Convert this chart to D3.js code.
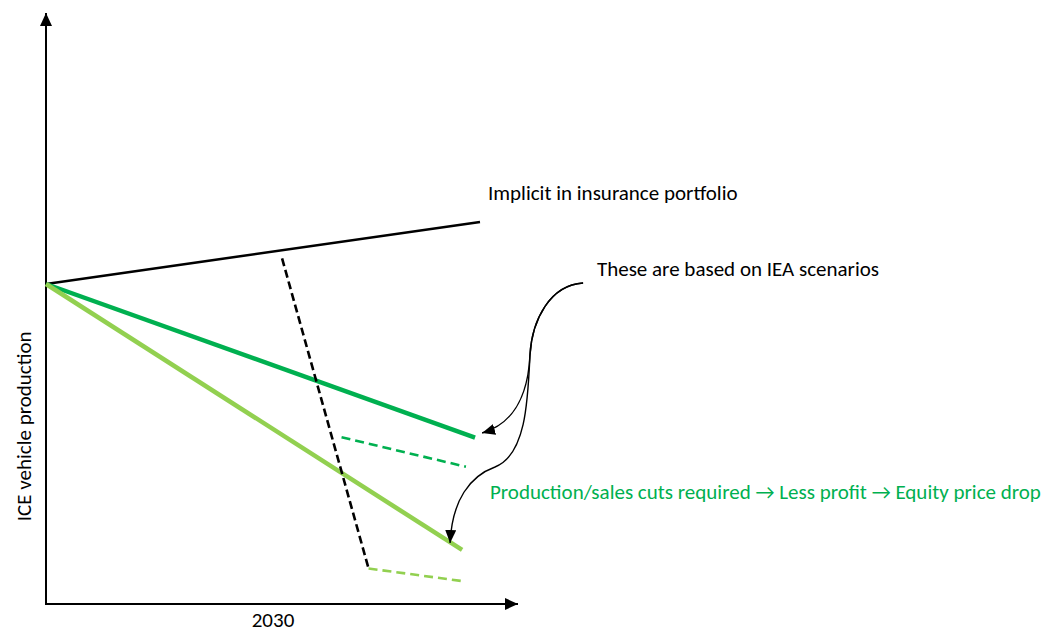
<!DOCTYPE html>
<html>
<head>
<meta charset="utf-8">
<script src="https://cdn.jsdelivr.net/npm/d3@7"></script>
<style>
  html, body { margin: 0; padding: 0; background: #fff; }
  svg { display: block; }
  text { font-family: Calibri, Carlito, Lato, "Open Sans", sans-serif; }
</style>
</head>
<body>
<svg id="chart" width="1045" height="633"></svg>
<script>
// Schematic: ICE vehicle production paths (index, start = 100) over time
const xTicks = [2030];
const startYear = 2020;

// Solid trajectories: [year, level]
const insurancePath = [[2020, 100], [2039.12, 119.4]];
const ieaUpperPath  = [[2020, 100], [2038.9, 52.0]];
const ieaLowerPath  = [[2020, 100], [2038.33, 16.9]];

// Dashed: abrupt adjustment and the resulting lower paths
const adjustmentPath = [[2030.4, 108.0], [2034.21, 11.1]];
const lowerAfterCut  = [[2034.21, 11.1], [2038.3, 7.2]];
const upperAfterCut  = [[2033.02, 52.1], [2038.5, 42.9]];

// Connector curves from the IEA note (chains of cubic segments, year/level units)
const connectorToUpper = [
  [2043.66, 100.31],
  [2042.2, 99.69], [2041.41, 88.75], [2041.32, 77.81],
  [2041.23, 63.75], [2040.44, 55.94], [2039.21, 53.44]
];
const connectorToLower = [
  [2043.66, 100.31],
  [2042.2, 99.69], [2041.41, 88.75], [2041.32, 77.81],
  [2041.23, 63.75], [2041.15, 46.56], [2039.78, 42.81],
  [2038.68, 40.0], [2037.89, 32.5], [2037.8, 19.06]
];

// Text labels with their anchor points [year, level]
const labels = {
  yAxis: "ICE vehicle production",
  insurance: "Implicit in insurance portfolio",
  iea: "These are based on IEA scenarios",
  consequence: "Production/sales cuts required \u2192 Less profit \u2192 Equity price drop"
};
const insuranceAt   = [2039.47, 126.25];
const ieaAt         = [2044.27, 102.5];
const consequenceAt = [2039.56, 32.8];

const svg = d3.select("#chart");
const x = d3.scaleLinear().domain([2020, 2040]).range([46, 500]);
const y = d3.scaleLinear().domain([0, 100]).range([604, 284]);

const BLACK = "#000000", DARK_GREEN = "#00B050", LIGHT_GREEN = "#92D050";
const FONT_SIZE = 21;

const defs = svg.append("defs");
function marker(id, w, l) {
  defs.append("marker")
    .attr("id", id)
    .attr("viewBox", `0 0 ${l} ${w}`)
    .attr("refX", l).attr("refY", w / 2)
    .attr("markerWidth", l).attr("markerHeight", w)
    .attr("markerUnits", "userSpaceOnUse")
    .attr("orient", "auto")
    .append("path")
    .attr("d", `M0,0L${l},${w / 2}L0,${w}Z`)
    .attr("fill", BLACK);
}
marker("axisArrow", 12, 13);
marker("noteArrow", 11, 13);

// Axes with arrowheads
const yTop = y.invert(13), xEnd = x.invert(518);
svg.append("line")
  .attr("x1", x(startYear)).attr("y1", y(0))
  .attr("x2", x(startYear)).attr("y2", y(yTop))
  .attr("stroke", BLACK).attr("stroke-width", 2)
  .attr("marker-end", "url(#axisArrow)");
svg.append("line")
  .attr("x1", x(startYear) - 1).attr("y1", y(0))
  .attr("x2", x(xEnd)).attr("y2", y(0))
  .attr("stroke", BLACK).attr("stroke-width", 2)
  .attr("marker-end", "url(#axisArrow)");

svg.selectAll(".xtick").data(xTicks).enter().append("text")
  .attr("class", "xtick")
  .attr("x", d => x(d)).attr("y", y(0) + 23)
  .attr("text-anchor", "middle")
  .attr("font-size", FONT_SIZE).attr("fill", BLACK)
  .text(d => d);

svg.append("text")
  .attr("transform", `translate(31,${y(55.5)}) rotate(-90)`)
  .attr("text-anchor", "middle")
  .attr("font-size", FONT_SIZE).attr("fill", BLACK)
  .text(labels.yAxis);

const line = d3.line().x(d => x(d[0])).y(d => y(d[1]));

function drawPath(data, color, width, dash) {
  svg.append("path")
    .attr("d", line(data))
    .attr("fill", "none")
    .attr("stroke", color)
    .attr("stroke-width", width)
    .attr("stroke-dasharray", dash || null);
}

drawPath(insurancePath, BLACK, 2.5);
drawPath(ieaUpperPath, DARK_GREEN, 4.5);
drawPath(ieaLowerPath, LIGHT_GREEN, 4.5);
drawPath(upperAfterCut, DARK_GREEN, 2.6, "9,5");
drawPath(lowerAfterCut, LIGHT_GREEN, 2.6, "9,5");
drawPath(adjustmentPath, BLACK, 2.6, "8,4");

function cubicChain(pts) {
  const p = d3.path();
  p.moveTo(x(pts[0][0]), y(pts[0][1]));
  for (let i = 1; i + 2 < pts.length; i += 3) {
    p.bezierCurveTo(
      x(pts[i][0]), y(pts[i][1]),
      x(pts[i + 1][0]), y(pts[i + 1][1]),
      x(pts[i + 2][0]), y(pts[i + 2][1]));
  }
  return p.toString();
}
[connectorToUpper, connectorToLower].forEach(pts => {
  svg.append("path")
    .attr("d", cubicChain(pts))
    .attr("fill", "none")
    .attr("stroke", BLACK)
    .attr("stroke-width", 1.4)
    .attr("marker-end", "url(#noteArrow)");
});

// Annotations
function note(text, at, color) {
  svg.append("text")
    .attr("x", x(at[0])).attr("y", y(at[1]))
    .attr("font-size", FONT_SIZE).attr("fill", color)
    .text(text);
}
note(labels.insurance, insuranceAt, BLACK);
note(labels.iea, ieaAt, BLACK);
note(labels.consequence, consequenceAt, DARK_GREEN);
</script>
</body>
</html>
